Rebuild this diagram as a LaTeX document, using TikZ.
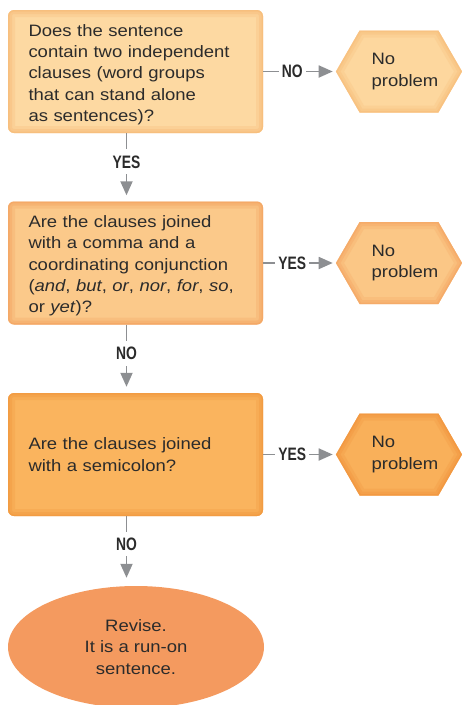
\documentclass[tikz,border=0pt]{standalone}
\usepackage{fontspec}
\setmainfont{Liberation Sans}[FakeStretch=1.12]
\newfontfamily\tagfont{Liberation Sans}[FakeStretch=0.77]
\usetikzlibrary{shapes.geometric,shapes.symbols,arrows.meta,calc}

% palette
\definecolor{inkgray}{HTML}{2B2B2B}
\definecolor{arrowgray}{HTML}{8D8F92}
\definecolor{boxAfill}{HTML}{FDD9A2}\definecolor{boxAedge}{HTML}{F7B874}
\definecolor{boxBfill}{HTML}{FBC98A}\definecolor{boxBedge}{HTML}{F3A05E}
\definecolor{boxCfill}{HTML}{FAB45E}\definecolor{boxCedge}{HTML}{F1963C}
\definecolor{hexAfill}{HTML}{FDD79E}\definecolor{hexAedge}{HTML}{F8BC7A}
\definecolor{hexBfill}{HTML}{FBC786}\definecolor{hexBedge}{HTML}{F4A462}
\definecolor{hexCfill}{HTML}{F9B05A}\definecolor{hexCedge}{HTML}{F1933C}
\definecolor{ovalfill}{HTML}{F49A5F}\definecolor{ovaledge}{HTML}{E46F49}

% flat centre, darker rim
\pgfdeclareradialshading{ovalglow}{\pgfpoint{0bp}{0bp}}{%
  color(0bp)=(ovalfill); color(40bp)=(ovalfill); color(50bp)=(ovaledge); color(100bp)=(ovaledge)}

% taller first line to sit the text block a little lower
\newcommand\firststrut{\rule{0pt}{18pt}}

\tikzset{
  every node/.style={font=\fontsize{16.5}{21.3}\selectfont, text=inkgray},
  rectglow/.style={path picture={
    \foreach \w/\o in {14/0.25,8/0.35,3/0.5}
      \draw[draw=#1, line width=\w pt, draw opacity=\o, rounded corners=6pt]
        (path picture bounding box.north west) rectangle (path picture bounding box.south east);}},
  hexglow/.style={path picture={
    \foreach \w/\o in {14/0.25,8/0.35,3/0.5}
      \draw[draw=#1, line width=\w pt, draw opacity=\o, line join=miter]
        (path picture bounding box.west)
        -- ($(path picture bounding box.north west)+(24pt,0)$)
        -- ($(path picture bounding box.north east)+(-24pt,0)$)
        -- (path picture bounding box.east)
        -- ($(path picture bounding box.south east)+(-24pt,0)$)
        -- ($(path picture bounding box.south west)+(24pt,0)$) -- cycle;}},
  qbox/.style 2 args={rounded corners=6pt, fill=#1, rectglow=#2,
    minimum width=255pt, minimum height=123pt, text width=214pt,
    align=left, inner sep=0pt},
  hexnode/.style 2 args={signal, signal to=west and east, signal pointer angle=120,
    fill=#1, hexglow=#2, minimum width=122pt, minimum height=82pt,
    inner sep=0pt, align=left},
  endnode/.style={ellipse, shading=ovalglow, minimum width=256pt, minimum height=122pt,
    inner sep=0pt, align=center},
  conn/.style={draw=arrowgray, line width=1.8pt, -{Triangle[length=14pt,width=12pt]}},
  tagbase/.style={font=\tagfont\bfseries\fontsize{18}{18}\selectfont, fill=white,
    text=inkgray, text height=12.8pt, text depth=0pt},
  htag/.style={tagbase, inner xsep=3pt, inner ysep=0pt},
  vtag/.style={tagbase, inner xsep=0pt, inner ysep=6pt},
}

\begin{document}
\begin{tikzpicture}[x=1pt, y=-1pt]
  \useasboundingbox (0,0) rectangle (462,705);

  % questions
  \node[qbox={boxAfill}{boxAedge}] (b1) at (135.5,71.5)
    {\firststrut Does the sentence\\contain two independent\\clauses (word groups\\that can stand alone\\as sentences)?};
  \node[qbox={boxBfill}{boxBedge}] (b2) at (135.5,263)
    {\firststrut Are the clauses joined\\with a comma and a\\coordinating conjunction\\(\textit{and}, \textit{but}, \textit{or}, \textit{nor}, \textit{for}, \textit{so},\\or \textit{yet})?};
  \node[qbox={boxCfill}{boxCedge}] (b3) at (135.5,454.5)
    {Are the clauses joined\\with a semicolon?};

  % outcomes
  \node[hexnode={hexAfill}{hexAedge}] (h1) at (399,71.5) {\hspace*{12pt}No\\\hspace*{12pt}problem};
  \node[hexnode={hexBfill}{hexBedge}] (h2) at (399,263) {\hspace*{12pt}No\\\hspace*{12pt}problem};
  \node[hexnode={hexCfill}{hexCedge}] (h3) at (399,454.5) {\hspace*{12pt}No\\\hspace*{12pt}problem};
  \node[endnode] (e) at (136,647) {Revise.\\It is a run-on\\sentence.};

  % connectors
  \draw[conn, shorten >=3pt] (b1.east) -- node[htag, pos=0.4] {NO} (h1.west);
  \draw[conn, shorten >=3pt] (b2.east) -- node[htag, pos=0.4] {YES} (h2.west);
  \draw[conn, shorten >=3pt] (b3.east) -- node[htag, pos=0.4] {YES} (h3.west);
  \draw[conn, shorten >=6pt] ([xshift=-9pt]b1.south) -- node[vtag, pos=0.42] {YES} ([xshift=-9pt]b2.north);
  \draw[conn, shorten >=6pt] ([xshift=-9pt]b2.south) -- node[vtag, pos=0.42] {NO} ([xshift=-9pt]b3.north);
  \draw[conn, shorten >=8pt] ([xshift=-9pt]b3.south) -- node[vtag, pos=0.4] {NO} ([xshift=-9pt]b3.south |- e.north);
\end{tikzpicture}
\end{document}
